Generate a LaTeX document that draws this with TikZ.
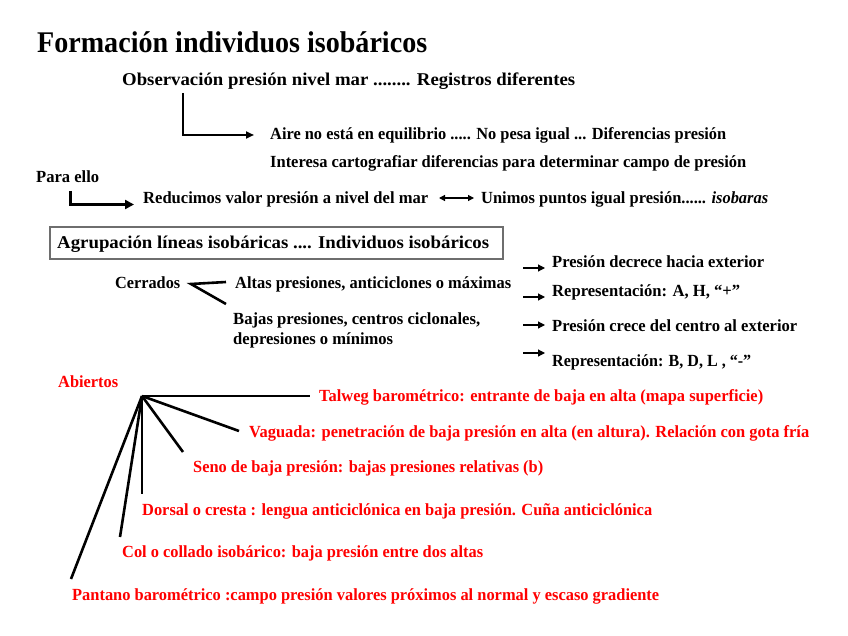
\documentclass[tikz,border=0pt]{standalone}
\usepackage{fontspec}
\setmainfont{Liberation Serif}[BoldFont={Liberation Serif Bold},ItalicFont={Liberation Serif Italic},BoldItalicFont={Liberation Serif Bold Italic}]
\newfontfamily\tnr{Liberation Serif Bold}
\newfontfamily\tnri{Liberation Serif Bold Italic}
\usepackage{graphicx}
\usetikzlibrary{arrows.meta}
\definecolor{tred}{RGB}{255,0,0}
\definecolor{boxgray}{RGB}{110,110,110}
\newcommand\fitw[2]{\resizebox{#1pt}{\height}{#2}}
\begin{document}
\begin{tikzpicture}[x=1pt,y=-1pt,
  txt/.style={anchor=base west,inner sep=0pt,font=\tnr\fontsize{17}{19}\selectfont},
  rtxt/.style={txt,text=tred},
  thick2/.style={line width=2pt},
  fanline/.style={line width=2.6pt},
  smallarrow/.style={line width=1.2pt,-{Triangle[length=7pt,width=7pt]}}]
\useasboundingbox (0,0) rectangle (848,636);
% title and first lines
\node[txt,font=\tnr\fontsize{30}{32}\selectfont] (title) at (37,53) {\fitw{390}{Formación individuos isobáricos}};
\node[txt,font=\tnr\fontsize{18}{20}\selectfont] (obs) at (122,86) {\fitw{453}{Observación presión nivel mar ........ Registros diferentes}};
\node[txt] (aire) at (270,140) {\fitw{456}{Aire no está en equilibrio ..... No pesa igual ... Diferencias presión}};
\node[txt] (interesa) at (270,168) {\fitw{476}{Interesa cartografiar diferencias para determinar campo de presión}};
\node[txt] (para) at (36,183) {\fitw{63}{Para ello}};
\node[txt] (reduc) at (143,204) {\fitw{285}{Reducimos valor presión a nivel del mar}};
\node[txt] (unimos) at (481,204) {\fitw{287}{Unimos puntos igual presión...... {\tnri isobaras}}};
% bracket arrows
\coordinate (a1s) at (183,93);
\coordinate (a1c) at (183,135);
\coordinate (a1e) at (254,135);
\draw[thick2,-{Triangle[length=8pt,width=7pt]}] (a1s) -- (a1c) -- (a1e);
\coordinate (a2s) at (70,191);
\coordinate (a2c) at (70,204.5);
\coordinate (a2e) at (134,204.5);
\draw[line width=3pt,-{Triangle[length=9pt,width=9pt]}] (a2s) -- (a2c) -- (a2e);
\coordinate (d1) at (439,198);
\coordinate (d2) at (474,198);
\draw[line width=1.2pt,{Triangle[length=6pt,width=6pt]}-{Triangle[length=6pt,width=6pt]}] (d1) -- (d2);
% box
\node[draw=boxgray,line width=1.6pt,minimum width=453pt,minimum height=32pt,anchor=north west,inner sep=0pt] (box) at (49,226) {};
\node[txt,font=\tnr\fontsize{18}{20}\selectfont] (boxtxt) at (57,248) {\fitw{432}{Agrupación líneas isobáricas .... Individuos isobáricos}};
% cerrados
\node[txt] (cerr) at (115,288) {\fitw{65}{Cerrados}};
\node[txt] (altas) at (235,288) {\fitw{276}{Altas presiones, anticiclones o máximas}};
\node[txt] (bajas1) at (233,324) {\fitw{247}{Bajas presiones, centros ciclonales,}};
\node[txt] (bajas2) at (233,344) {\fitw{160}{depresiones o mínimos}};
\coordinate (cv) at (191,284);
\coordinate (cu) at (226,282);
\coordinate (cl) at (226,304);
\draw[line width=2.6pt] (cu) -- (cv) -- (cl);
% right column
\node[txt] (r1) at (552,268) {\fitw{212}{Presión decrece hacia exterior}};
\node[txt] (r2) at (552,296) {\fitw{188}{Representación: A, H,  “+”}};
\node[txt] (r3) at (552,331) {\fitw{245}{Presión crece del centro al exterior}};
\node[txt] (r4) at (552,366) {\fitw{199}{Representación: B, D, L , “-”}};
\foreach \i/\yy in {1/268,2/297,3/325,4/353}{
  \coordinate (s\i) at (523,\yy);
  \coordinate (e\i) at (545,\yy);
  \draw[smallarrow] (s\i) -- (e\i);
}
% abiertos
\node[rtxt] (abiertos) at (58,387) {\fitw{60}{Abiertos}};
\node[rtxt] (talweg) at (319,401) {\fitw{444}{Talweg barométrico: entrante de baja en alta  (mapa superficie)}};
\node[rtxt] (vaguada) at (249,437) {\fitw{560}{Vaguada: penetración de baja presión en alta (en altura). Relación con gota fría}};
\node[rtxt] (seno) at (193,472) {\fitw{350}{Seno de baja presión: bajas presiones relativas (b)}};
\node[rtxt] (dorsal) at (142,515) {\fitw{510}{Dorsal o cresta : lengua anticiclónica en baja presión. Cuña anticiclónica}};
\node[rtxt] (col) at (122,557) {\fitw{361}{Col o collado isobárico: baja presión entre dos altas}};
\node[rtxt] (pantano) at (72,600) {\fitw{587}{Pantano barométrico :campo presión valores próximos al normal y escaso gradiente}};
\coordinate (fv) at (142,396);
\coordinate (f1) at (310,396);
\coordinate (f2) at (239,431);
\coordinate (f3) at (183,452);
\coordinate (f4) at (142,494);
\coordinate (f5) at (120,537);
\coordinate (f6) at (71,579);
\foreach \k in {1,...,6}{\draw[fanline] (fv) -- (f\k);}
\end{tikzpicture}
\end{document}
